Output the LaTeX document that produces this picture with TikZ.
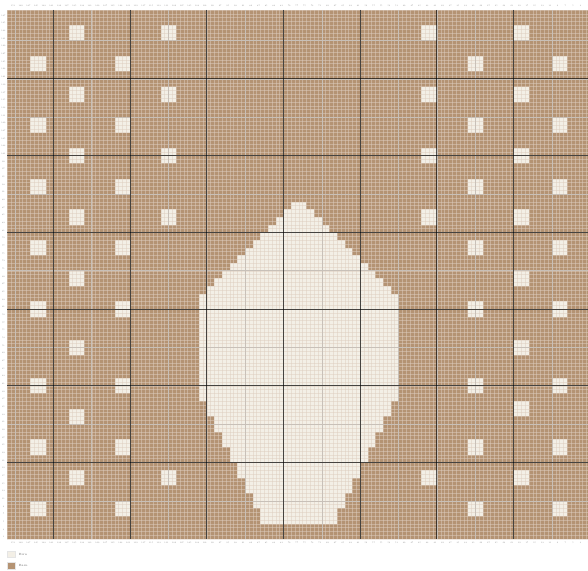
\documentclass[tikz,border=0pt]{standalone}
\usepackage{tikz}
\usetikzlibrary{positioning}
\definecolor{chartbrown}{RGB}{180,147,115}
\definecolor{chartcream}{RGB}{243,239,230}
\definecolor{gridfine}{RGB}{222,206,192}
\definecolor{gridmid}{RGB}{200,192,184}

\begin{document}
\begin{tikzpicture}[x=3.835pt,y=-3.835pt,font=\sffamily,
  cell/.style={fill=chartcream},
  fine/.style={draw=gridfine,draw opacity=0.5,line width=0.3pt},
  mid/.style={draw=gridmid,line width=0.5pt},
  major/.style={draw=black,draw opacity=0.65,line width=0.9pt},
  num/.style={font=\fontsize{2}{2}\selectfont,text=black!50,inner sep=0pt},
  key/.style={rectangle,minimum width=7.5pt,minimum height=6.5pt,inner sep=0pt,draw=black!10},
  keytxt/.style={font=\fontsize{3}{3}\selectfont,text=black!60,inner sep=0pt}]
\useasboundingbox (-1.904,-2.582) rectangle (151.42,146.05);
\fill[chartbrown] (0,0) rectangle (152,138);
% dots
\foreach \r in {4,20,36,52,120}
  \foreach \c in {16,40,108,132}
    \fill[cell] (\c,\r) rectangle ++(4,4);
\foreach \r in {12,28,44,60,76,96,112,128}
  \foreach \c in {6,28,120,142}
    \fill[cell] (\c,\r) rectangle ++(4,4);
\foreach \r/\c in {68/16,86/16,104/16,68/132,86/132,102/132}
  \fill[cell] (\c,\r) rectangle ++(4,4);
% motif
\foreach \k in {0,...,11}
  \fill[cell] ({74-2*\k},{50+2*\k}) rectangle ({78+2*\k},{52+2*\k});
\fill[cell] (50,74) rectangle (102,102);
\foreach \k in {0,...,7}
  \fill[cell] ({52+2*\k},{102+4*\k}) rectangle ({100-2*\k},{106+4*\k});
% grid
\foreach \i in {0,...,152} \draw[fine] (\i,0) -- (\i,138);
\foreach \j in {0,...,138} \draw[fine] (0,\j) -- (152,\j);
\foreach \i in {2,12,...,142} \draw[mid] (\i,0) -- (\i,138);
\foreach \j in {8,18,...,128} \draw[mid] (0,\j) -- (152,\j);
\foreach \i in {12,32,...,132} \draw[major] (\i,0) -- (\i,138);
\foreach \j in {18,38,...,118} \draw[major] (0,\j) -- (152,\j);
% numbers
\foreach \r in {1,3,...,137}
  \node[num] (row-\r) at (-1,\r+0.5) {\pgfmathparse{int(138-\r)}\pgfmathresult};
\foreach \c in {1,3,...,151} {
  \node[num] (top-\c) at (\c+0.5,-1) {\pgfmathparse{int(152-\c)}\pgfmathresult};
  \node[num] (bot-\c) at (\c+0.5,139) {\pgfmathparse{int(152-\c)}\pgfmathresult};
}
% legend
\node[key,fill=chartcream,anchor=north west] (keyA) at (0,141) {};
\node[keytxt,right=3.5pt of keyA] (keyAtxt) {Biru};
\node[key,fill=chartbrown,anchor=north west] (keyB) at (0,144) {};
\node[keytxt,right=3.5pt of keyB] (keyBtxt) {Barn};
\end{tikzpicture}
\end{document}
